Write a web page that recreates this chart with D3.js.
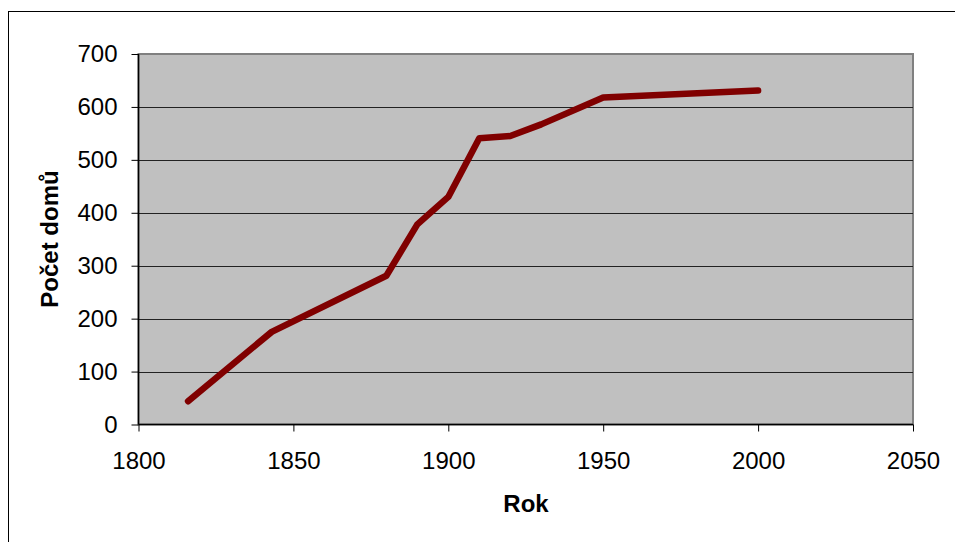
<!DOCTYPE html>
<html>
<head>
<meta charset="utf-8">
<script src="https://cdn.jsdelivr.net/npm/d3@7/dist/d3.min.js"></script>
<style>
  body { margin: 0; background: #fff; }
  text { font-family: "Liberation Sans", Arial, sans-serif; }
</style>
</head>
<body>
<div id="chart"></div>
<script>
// data
var years  = [1816, 1843, 1880, 1890, 1900, 1910, 1920, 1930, 1950, 2000];
var houses = [44, 175, 281, 378, 430, 541, 545, 567, 618, 631];
var xTicks = [1800, 1850, 1900, 1950, 2000, 2050];
var yTicks = [0, 100, 200, 300, 400, 500, 600, 700];

var width = 955, height = 542;
var plotLeft = 138.5, plotRight = 913, plotTop = 54, plotBottom = 424.5;

var svg = d3.select("#chart").append("svg")
  .attr("width", width)
  .attr("height", height);

// outer frame
svg.append("rect")
  .attr("x", 8.5).attr("y", 11.5)
  .attr("width", 960).attr("height", 540)
  .attr("fill", "none").attr("stroke", "#000").attr("stroke-width", 1);

var x = d3.scaleLinear().domain([1800, 2050]).range([plotLeft, plotRight]);
var y = d3.scaleLinear().domain([0, 700]).range([plotBottom, plotTop]);

// plot area
svg.append("rect")
  .attr("x", plotLeft).attr("y", plotTop)
  .attr("width", plotRight - plotLeft).attr("height", plotBottom - plotTop)
  .attr("fill", "#c0c0c0")
  .attr("stroke", "#808080").attr("stroke-width", 2);

// horizontal gridlines
svg.selectAll("line.grid")
  .data(yTicks.filter(function(d) { return d > 0 && d < 700; }))
  .enter().append("line")
  .attr("class", "grid")
  .attr("x1", plotLeft).attr("x2", plotRight)
  .attr("y1", function(d) { return Math.round(y(d)) + 0.5; })
  .attr("y2", function(d) { return Math.round(y(d)) + 0.5; })
  .attr("stroke", "#222").attr("stroke-width", 1);

// axes
var yAxis = d3.axisLeft(y).tickValues(yTicks).tickSize(7).tickPadding(14);
var xAxis = d3.axisBottom(x).tickValues(xTicks).tickFormat(d3.format("d")).tickSize(7).tickPadding(20);

var gy = svg.append("g").attr("transform", "translate(" + plotLeft + ",0)").call(yAxis);
var gx = svg.append("g").attr("transform", "translate(0," + plotBottom + ")").call(xAxis);

[gx, gy].forEach(function(g) {
  g.attr("font-size", 24).attr("font-family", "Liberation Sans, Arial, sans-serif");
  g.select(".domain").attr("stroke", "#000").attr("stroke-width", 1.5);
  g.selectAll(".tick line").attr("stroke", "#000");
  g.selectAll(".tick text").attr("fill", "#000");
});
gy.select(".domain").attr("d", "M0," + plotBottom + "V" + plotTop);
gx.select(".domain").attr("d", "M" + plotLeft + ",0H" + plotRight);

// data line
var line = d3.line()
  .x(function(d, i) { return x(years[i]); })
  .y(function(d) { return y(d); });

svg.append("path")
  .datum(houses)
  .attr("d", line)
  .attr("fill", "none")
  .attr("stroke", "#800000")
  .attr("stroke-width", 6.5)
  .attr("stroke-linejoin", "round")
  .attr("stroke-linecap", "round");

// axis titles
svg.append("text")
  .attr("x", 526).attr("y", 511.5)
  .attr("text-anchor", "middle")
  .style("font-size", "24px").style("font-weight", "bold")
  .text("Rok");

svg.append("text")
  .attr("transform", "translate(57.5,239) rotate(-90)")
  .attr("text-anchor", "middle")
  .style("font-size", "24px").style("font-weight", "bold")
  .text("Počet domů");
</script>
</body>
</html>
